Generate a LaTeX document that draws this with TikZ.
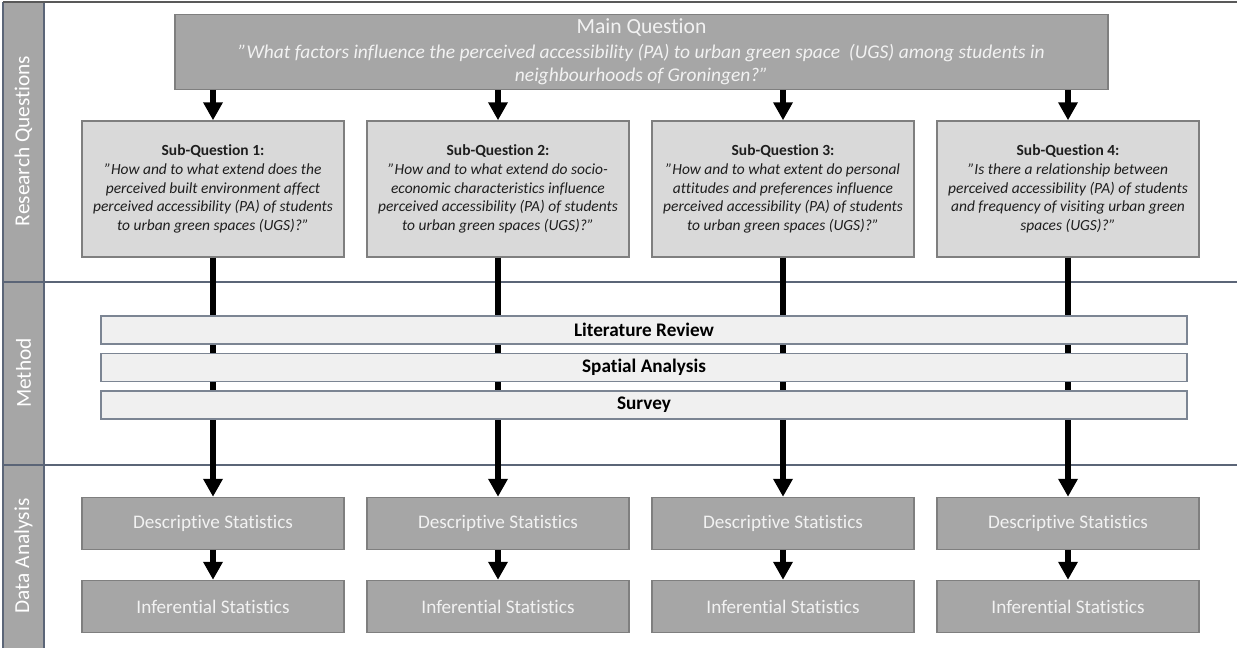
\documentclass[tikz,border=0pt]{standalone}
\usepackage{fontspec}
\setmainfont{Carlito}[Ligatures={TeX,NoCommon}]
\usetikzlibrary{arrows.meta,positioning}

\definecolor{darkfill}{HTML}{A6A6A6}
\definecolor{sqfill}{HTML}{D9D9D9}
\definecolor{barfill}{HTML}{F0F0F0}
\definecolor{boxedge}{HTML}{7F7F7F}
\definecolor{baredge}{HTML}{7C8593}
\definecolor{sepline}{HTML}{5B6577}
\definecolor{lighttext}{HTML}{F2F2F2}
\definecolor{sqtext}{HTML}{1E1E1E}

\begin{document}
\begin{tikzpicture}[
        x=0.75pt, y=-0.75pt,
        >={Triangle[width=14pt,length=13.5pt]},
        flow/.style={
          ->,
          line width=4.4pt
          },
        mainbox/.style={
          draw=boxedge,
          fill=darkfill,
          line width=1.1pt,
          minimum width=699.75pt,
          minimum height=56.25pt,
          inner sep=0pt,
          align=center,
          text=lighttext,
          font=\fontsize{14.6}{17.25}\selectfont\itshape
          },
        sqbox/.style={
          draw=boxedge,
          fill=sqfill,
          line width=1.1pt,
          minimum width=196.5pt,
          minimum height=102pt,
          inner sep=0pt,
          align=center,
          text=sqtext,
          font=\fontsize{11.6}{14}\selectfont\itshape
          },
        bar/.style={
          draw=baredge,
          fill=barfill,
          line width=0.9pt,
          minimum width=814.5pt,
          minimum height=21pt,
          inner sep=0pt,
          font=\fontsize{14.4}{16}\selectfont\bfseries
          },
        stat/.style={
          draw=boxedge,
          fill=darkfill,
          line width=1.1pt,
          minimum width=196.5pt,
          minimum height=39pt,
          inner sep=0pt,
          text=lighttext,
          font=\fontsize{14.4}{16}\selectfont
          },
        lane/.style={
          rotate=90,
          text=white,
          font=\fontsize{16}{18}\selectfont
          }
        ]
        \useasboundingbox (0,0) rectangle (1237,648);
        % side lanes
        \fill[darkfill] (3,2) rectangle (44,648);
        \draw[sepline, line width=0.9pt] (44,2) -- (44,648);
        \draw[sepline, line width=0.9pt] (3,2) -- (3,648);
        \draw[black!65, line width=1.4pt] (3,2) -- (1237,2);
        \draw[sepline, line width=1pt] (3,282) -- (1237,282);
        \draw[sepline, line width=1pt] (3,465) -- (1237,465);
        \node[lane] (rq) at (23.5,141) {Research Questions};
        \node[lane] (me) at (23.5,373) {Method};
        \node[lane] (da) at (23.5,556) {Data Analysis};

        \node[mainbox] (main) at (641.5,52)
          {{\fontsize{16.2}{18}\selectfont\upshape Main Question}\\[1.5pt]
          ''What factors influence the perceived accessibility (PA) to urban green space~ (UGS) among students in\\
          neighbourhoods of Groningen?''};

        \node[sqbox] (sq1) at (213,189)
          {{\upshape\bfseries Sub-Question 1:}\\
          ''How and to what extend does the\\
          perceived built environment affect\\
          perceived accessibility (PA) of students\\
          to urban green spaces (UGS)?''};
        \node[sqbox] (sq2) at (498,189)
          {{\upshape\bfseries Sub-Question 2:}\\
          ''How and to what extend do socio-\\
          economic characteristics influence\\
          perceived accessibility (PA) of students\\
          to urban green spaces (UGS)?''};
        \node[sqbox] (sq3) at (783,189)
          {{\upshape\bfseries Sub-Question 3:}\\
          ''How and to what extent do personal\\
          attitudes and preferences influence\\
          perceived accessibility (PA) of students\\
          to urban green spaces (UGS)?''};
        \node[sqbox] (sq4) at (1068,189)
          {{\upshape\bfseries Sub-Question 4:}\\
          ''Is there a relationship between\\
          perceived accessibility (PA) of students\\
          and frequency of visiting urban green\\
          spaces (UGS)?''};

        \foreach \x [count=\i] in {213,498,783,1068}
        {
          \node[stat] (ds\i) at (\x,523.5) {Descriptive Statistics};
          \node[stat] (in\i) at (\x,606.5) {Inferential Statistics};
        }

        \foreach \i in {1,...,4}
        {
          \draw[flow] (sq\i.north |- main.south) -- (sq\i.north);
          \draw[flow] (sq\i.south) -- (ds\i.north);
          \draw[flow] (ds\i.south) -- (in\i.north);
        }

        \node[bar] (lit) at (644,330) {Literature Review};
        \node[bar] (spa) at (644,367.5) {Spatial Analysis};
        \node[bar] (sur) at (644,405) {Survey};
\end{tikzpicture}
\end{document}
